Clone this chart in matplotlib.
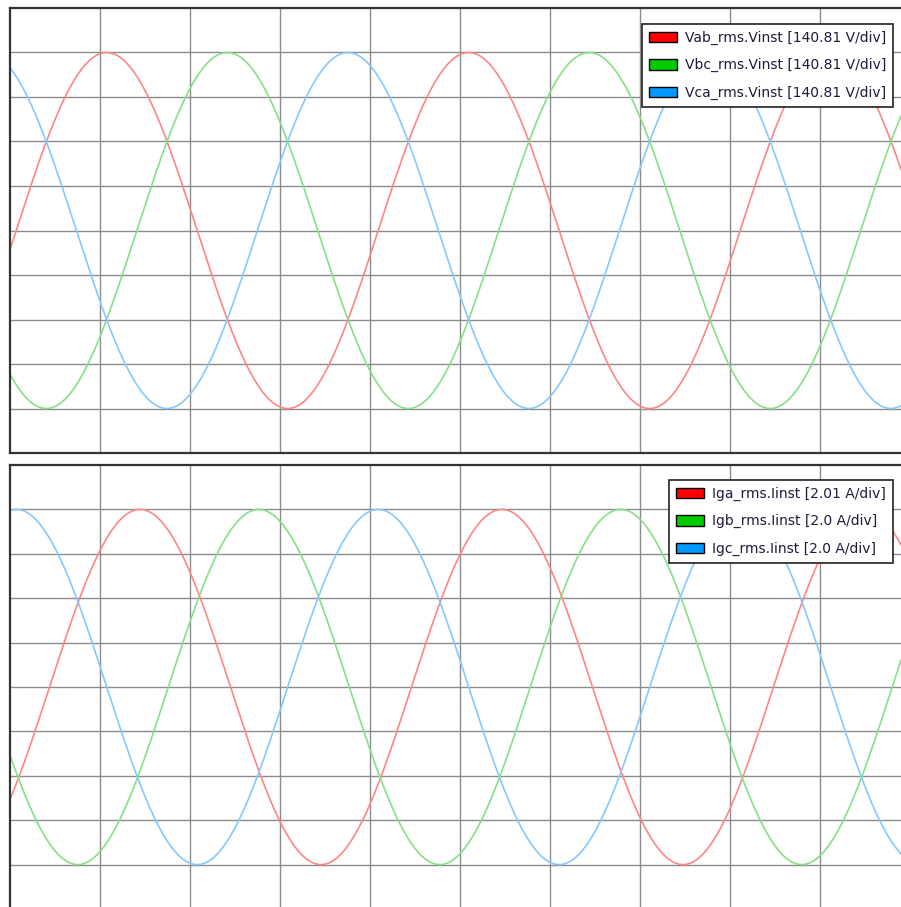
import matplotlib
matplotlib.use('Agg')
import matplotlib.pyplot as plt
import numpy as np

# waveform settings (x in grid divisions)
period_div = 4.022
amplitude_div = 4.0

v_labels = ['Vab_rms.Vinst [140.81 V/div]', 'Vbc_rms.Vinst [140.81 V/div]', 'Vca_rms.Vinst [140.81 V/div]']
v_peaks = [1.08, 2.42, 3.76]   # x position of first positive peak (div)

i_labels = ['Iga_rms.Iinst [2.01 A/div]', 'Igb_rms.Iinst [2.0 A/div]', 'Igc_rms.Iinst [2.0 A/div]']
i_peaks = [1.45, 2.77, 0.075]

line_colors = ['#ff8585', '#85e085', '#85c8ff']
patch_colors = ['#ff0000', '#00cc00', '#0099ff']

W, H = 901, 907
fig = plt.figure(figsize=(W / 100, H / 100), dpi=100)

x_left = 9.5
x_max = (W - x_left) / 90.0
t = np.linspace(0, x_max, 2000)


def make_panel(top_px, bottom_px, peaks, labels, legend_right_px, legend_top_px):
    ax = fig.add_axes([x_left / W, 1 - bottom_px / H, (W - x_left) / W, (bottom_px - top_px) / H])
    for p, lab, lc in zip(peaks, labels, line_colors):
        y = amplitude_div * np.cos(2 * np.pi * (t - p) / period_div)
        ax.plot(t, y, color=lc, lw=1.2)
    ax.set_xlim(0, x_max)
    ax.set_ylim(-5, 5)
    ax.set_xticks(np.arange(1, 10))
    ax.set_yticks(np.arange(-4, 5))
    ax.grid(True, color='#8c8c8c', lw=1.0)
    ax.tick_params(length=0, labelbottom=False, labelleft=False)
    for s in ['left', 'top', 'bottom']:
        ax.spines[s].set_color('#333333')
        ax.spines[s].set_linewidth(1.6)
    ax.spines['right'].set_visible(False)
    handles = [plt.Rectangle((0, 0), 1, 1, facecolor=c, edgecolor='black', lw=1.0) for c in patch_colors]
    bx = (legend_right_px - x_left) / (W - x_left)
    by = (bottom_px - legend_top_px) / (bottom_px - top_px)
    leg = ax.legend(handles, labels, loc='upper right', bbox_to_anchor=(bx, by),
                    borderaxespad=0, fancybox=False, framealpha=1, edgecolor='#222222',
                    prop={'family': 'DejaVu Sans', 'size': 10}, handlelength=2.0, handleheight=0.75,
                    labelspacing=0.95, handletextpad=0.58, borderpad=0.5)
    leg.get_frame().set_linewidth(1.2)
    for txt in leg.get_texts():
        txt.set_color('#1c1c3c')
    return ax


make_panel(8, 453, v_peaks, v_labels, 893, 24)
make_panel(465, 909, i_peaks, i_labels, 893, 480)

fig.savefig('out.png', dpi=100)
